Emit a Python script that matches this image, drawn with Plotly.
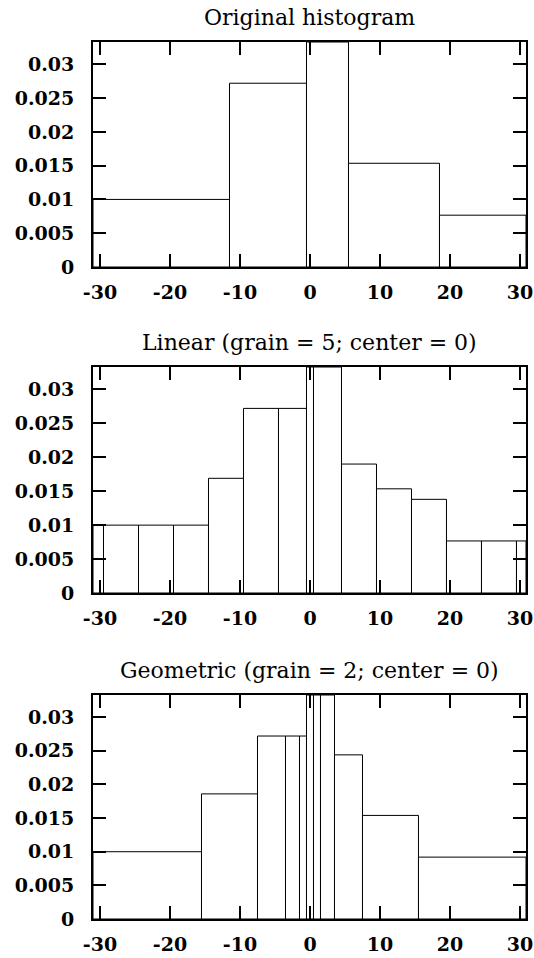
import plotly.graph_objects as go

# ---- data ----
orig_edges = [-31.0, -11.5, -0.5, 5.5, 18.5, 30.86]
orig_density = [0.0100, 0.0272, 0.0333, 0.01535, 0.00767]

lin_edges = [-31.0, -29.5, -24.5, -19.5, -14.5, -9.5, -4.5, -0.5, 0.5,
             4.5, 9.5, 14.5, 19.5, 24.5, 29.5, 30.86]
lin_density = [0.0100, 0.0100, 0.0100, 0.0100, 0.0169, 0.0272, 0.0272,
               0.0333, 0.0333, 0.0190, 0.01535, 0.0138, 0.00767, 0.00767,
               0.00767]

geo_edges = [-31.0, -15.5, -7.5, -3.5, -1.5, -0.5, 0.5, 1.5, 3.5, 7.5,
             15.5, 30.86]
geo_density = [0.0100, 0.0186, 0.0272, 0.0272, 0.0272, 0.0333, 0.0333,
               0.0333, 0.0244, 0.0154, 0.0092]

titles = ["Original histogram",
          "Linear (grain = 5; center = 0)",
          "Geometric (grain = 2; center = 0)"]

x_ticks = [-30, -20, -10, 0, 10, 20, 30]
y_ticks = [0, 0.005, 0.01, 0.015, 0.02, 0.025, 0.03]
y_tick_labels = ["0", "0.005", "0.01", "0.015", "0.02", "0.025", "0.03"]

panels = [(orig_edges, orig_density), (lin_edges, lin_density),
          (geo_edges, geo_density)]

# ---- layout geometry ----
W, H = 534, 958
ML, MR, MT, MB = 93, 8, 42, 39
plot_h = H - MT - MB
panel_px = [(42, 267), (367, 593), (695, 919)]  # (top, bottom) in px
domains = [[(H - MB - b) / plot_h, (H - MB - t) / plot_h] for t, b in panel_px]

FONT = "DejaVu Serif"
tick_font = dict(family=FONT, size=19, color="black", weight="bold")
title_font = dict(family=FONT, size=22, color="black")

y_max = max(max(d) for _, d in panels)

fig = go.Figure()
layout = dict(
    width=W, height=H,
    margin=dict(l=ML, r=MR, t=MT, b=MB, autoexpand=False),
    paper_bgcolor="white", plot_bgcolor="white",
    showlegend=False, annotations=[],
)

for i, (edges, dens) in enumerate(panels):
    n = i + 1
    centers = [(edges[k] + edges[k + 1]) / 2 for k in range(len(dens))]
    widths = [edges[k + 1] - edges[k] for k in range(len(dens))]
    fig.add_trace(go.Bar(
        x=centers, y=dens, width=widths,
        marker=dict(color="white", line=dict(color="black", width=1)),
        xaxis=f"x{n}", yaxis=f"y{n}", showlegend=False, hoverinfo="skip",
    ))
    common = dict(
        showline=True, linewidth=2, linecolor="black", mirror="ticks",
        ticks="inside", ticklen=13, tickwidth=2, tickcolor="black",
        showgrid=False, zeroline=False, tickfont=tick_font, automargin=False,
    )
    layout[f"xaxis{n}"] = dict(
        domain=[0, 1], anchor=f"y{n}", range=[edges[0], edges[-1]],
        tickmode="array", tickvals=x_ticks,
        ticktext=[str(v) for v in x_ticks], ticklabelstandoff=7,
        ticklabeloverflow="allow", **common,
    )
    layout[f"yaxis{n}"] = dict(
        domain=domains[i], anchor=f"x{n}", range=[0, y_max],
        tickmode="array", tickvals=y_ticks, ticktext=y_tick_labels,
        ticklabelstandoff=13, **common,
    )
    layout["annotations"].append(dict(
        text=titles[i], xref="paper", yref="paper", x=0.5, y=domains[i][1],
        xanchor="center", yanchor="bottom", yshift=10, showarrow=False,
        font=title_font,
    ))

fig.update_layout(**layout)
fig.write_html("out.html", config={"displayModeBar": False},
               post_script="document.body.style.margin='0';")
